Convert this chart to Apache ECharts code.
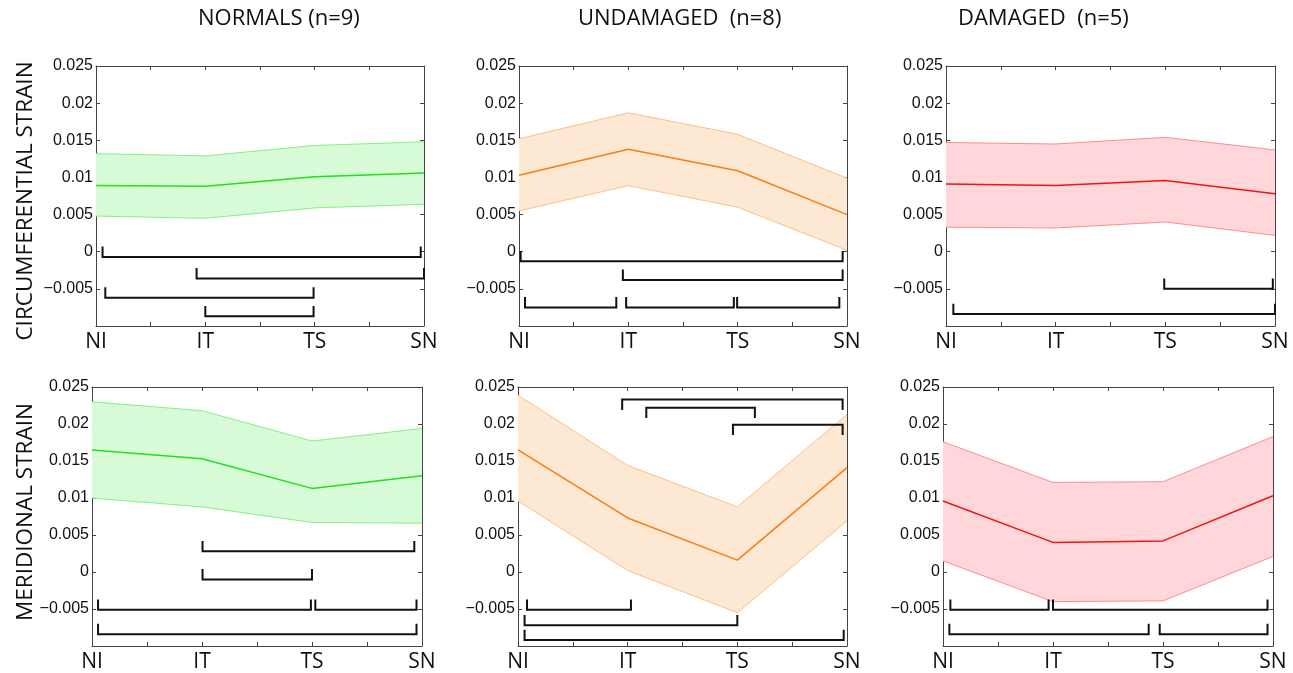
<!DOCTYPE html>
<html>
<head>
<meta charset="utf-8">
<script src="https://cdn.jsdelivr.net/npm/echarts@6/dist/echarts.min.js"></script>
<style>
  html, body { margin: 0; padding: 0; background: #fff; }
  #chart { width: 1293px; height: 673px; }
</style>
</head>
<body>
<div id="chart"></div>
<script>
// Sector names along the horizontal axis
const categories = ['NI', 'IT', 'TS', 'SN'];
const yTicks = [-0.005, 0, 0.005, 0.01, 0.015, 0.02, 0.025];

// Circumferential strain: mean and band limits per sector
const circNormalsMean    = [0.0089, 0.0088, 0.0101, 0.0106];
const circNormalsUpper   = [0.0132, 0.0129, 0.0143, 0.0148];
const circNormalsLower   = [0.0048, 0.0045, 0.0059, 0.0064];

const circUndamagedMean  = [0.0103, 0.0138, 0.0109, 0.0050];
const circUndamagedUpper = [0.0152, 0.0187, 0.0158, 0.0099];
const circUndamagedLower = [0.0055, 0.0089, 0.0060, 0.0002];

const circDamagedMean    = [0.0091, 0.0089, 0.0096, 0.0078];
const circDamagedUpper   = [0.0147, 0.0145, 0.0154, 0.0137];
const circDamagedLower   = [0.0033, 0.0032, 0.0040, 0.0022];

// Meridional strain: mean and band limits per sector
const merNormalsMean     = [0.0165, 0.0153, 0.0113, 0.0130];
const merNormalsUpper    = [0.0230, 0.0218, 0.0177, 0.0194];
const merNormalsLower    = [0.0100, 0.0088, 0.0067, 0.0066];

const merUndamagedMean   = [0.0165, 0.0073, 0.0016, 0.0141];
const merUndamagedUpper  = [0.0239, 0.0144, 0.0088, 0.0213];
const merUndamagedLower  = [0.0096, 0.0002, -0.0055, 0.0069];

const merDamagedMean     = [0.0096, 0.0040, 0.0042, 0.0103];
const merDamagedUpper    = [0.0176, 0.0121, 0.0122, 0.0183];
const merDamagedLower    = [0.0015, -0.0040, -0.0039, 0.0021];

// Significance brackets: [from sector, to sector, strain level]
const circNormalsBrackets   = [[0.06, 2.97, -0.0007], [0.92, 3.0, -0.0036], [0.085, 1.99, -0.0062], [1.0, 1.99, -0.0087]];
const circUndamagedBrackets = [[0.015, 2.96, -0.0013], [0.95, 2.96, -0.0038], [0.055, 0.89, -0.0075], [0.98, 1.965, -0.0075], [1.995, 2.93, -0.0075]];
const circDamagedBrackets   = [[1.99, 2.98, -0.0050], [0.067, 3.0, -0.0084]];
const merNormalsBrackets    = [[1.005, 2.93, 0.0028], [1.005, 2.0, -0.0010], [0.055, 1.99, -0.0051], [2.03, 2.95, -0.0051], [0.055, 2.95, -0.0084]];
const merUndamagedBrackets  = [[0.082, 1.03, -0.0051], [0.06, 2.0, -0.0072], [0.06, 2.97, -0.0092]];
const merUndamagedBracketsHanging = [[0.95, 2.96, 0.0233], [1.17, 2.16, 0.0222], [1.96, 2.96, 0.0199]];
const merDamagedBrackets    = [[0.067, 0.96, -0.0051], [1.0, 2.95, -0.0051], [0.058, 1.87, -0.0084], [1.97, 2.95, -0.0084]];

const groupTitles = ['NORMALS (n=9)', 'UNDAMAGED  (n=8)', 'DAMAGED  (n=5)'];
const rowTitles = ['CIRCUMFERENTIAL STRAIN', 'MERIDIONAL STRAIN'];

// Colours per group: mean line, band edge, band fill
const palettes = [
  { line: '#1ee01e', edge: '#86ef86', fill: '#d7fbd7' },
  { line: '#fa7d14', edge: '#fdc086', fill: '#fde8d4' },
  { line: '#ee1515', edge: '#ff8c8c', fill: '#ffd7da' }
];

const panels = [
  { rect: [96, 66, 328, 260],  mean: circNormalsMean,   upper: circNormalsUpper,   lower: circNormalsLower,   up: circNormalsBrackets,   down: [], pal: palettes[0] },
  { rect: [519, 66, 328, 260], mean: circUndamagedMean, upper: circUndamagedUpper, lower: circUndamagedLower, up: circUndamagedBrackets, down: [], pal: palettes[1] },
  { rect: [946, 66, 329, 260], mean: circDamagedMean,   upper: circDamagedUpper,   lower: circDamagedLower,   up: circDamagedBrackets,   down: [], pal: palettes[2] },
  { rect: [92, 387, 330, 260], mean: merNormalsMean,    upper: merNormalsUpper,    lower: merNormalsLower,    up: merNormalsBrackets,    down: [], pal: palettes[0] },
  { rect: [518, 387, 329, 260], mean: merUndamagedMean, upper: merUndamagedUpper,  lower: merUndamagedLower,  up: merUndamagedBrackets,  down: merUndamagedBracketsHanging, pal: palettes[1] },
  { rect: [943, 387, 330, 260], mean: merDamagedMean,   upper: merDamagedUpper,    lower: merDamagedLower,    up: merDamagedBrackets,    down: [], pal: palettes[2] }
];

const AXIS_COLOR = '#444';
const TEXT_COLOR = '#111';
const TICK_H = 0.0014; // bracket end-tick height in strain units
const yMin = -0.01, yMax = 0.025, yStep = 0.005;

function fmtY(v) {
  const r = Number(v.toFixed(4));
  if (r < yTicks[0] - 1e-9) return '';
  return r < 0 ? '\u2212' + String(-r) : String(r);
}

const grid = [], xAxis = [], yAxis = [], series = [];

// Bracket: horizontal bar with short end ticks (dir 1 = ticks up, -1 = ticks down)
function bracketSeries(data, gi, dir) {
  return {
    type: 'custom',
    xAxisIndex: gi * 2,
    yAxisIndex: gi * 2,
    clip: false,
    z: 5,
    silent: true,
    encode: { x: [0, 1], y: 2 },
    data: data,
    renderItem: function (params, api) {
      const x1 = api.value(0), x2 = api.value(1), y = api.value(2);
      const pts = [
        api.coord([x1, y + dir * TICK_H]),
        api.coord([x1, y]),
        api.coord([x2, y]),
        api.coord([x2, y + dir * TICK_H])
      ];
      return {
        type: 'polyline',
        shape: { points: pts },
        style: { stroke: '#111', lineWidth: 2, fill: null, lineJoin: 'miter' }
      };
    }
  };
}

// Filled band between the upper and lower limits
function bandSeries(p, gi) {
  return {
    type: 'custom',
    xAxisIndex: gi * 2,
    yAxisIndex: gi * 2,
    z: 1,
    silent: true,
    encode: { x: 0, y: [1, 2] },
    data: p.upper.map(function (u, i) { return [i, u, p.lower[i]]; }),
    renderItem: function (params, api) {
      if (params.dataIndex !== 0) return null;
      const pts = [];
      for (let i = 0; i < p.upper.length; i++) pts.push(api.coord([i, p.upper[i]]));
      for (let i = p.lower.length - 1; i >= 0; i--) pts.push(api.coord([i, p.lower[i]]));
      return {
        type: 'polygon',
        shape: { points: pts },
        style: { fill: p.pal.fill, stroke: null }
      };
    }
  };
}

panels.forEach(function (p, gi) {
  grid.push({ left: p.rect[0], top: p.rect[1], width: p.rect[2], height: p.rect[3], containLabel: false });

  const xBase = {
    type: 'value', gridIndex: gi, min: 0, max: 3, interval: 0.5,
    splitLine: { show: false },
    axisLine: { show: true, onZero: false, lineStyle: { color: AXIS_COLOR, width: 1 } },
    axisTick: { show: true, inside: true, length: 4, lineStyle: { color: AXIS_COLOR } }
  };
  xAxis.push(Object.assign({}, xBase, {
    position: 'bottom',
    axisLabel: {
      show: true, margin: 6, color: TEXT_COLOR, fontSize: 21, fontFamily: 'Open Sans, Liberation Sans, sans-serif',
      showMinLabel: true, showMaxLabel: true,
      formatter: function (v) { return Number.isInteger(v) ? categories[v] : ''; }
    }
  }));
  xAxis.push(Object.assign({}, xBase, { position: 'top', axisLabel: { show: false } }));

  const yBase = {
    type: 'value', gridIndex: gi, min: yMin, max: yMax, interval: yStep,
    splitLine: { show: false },
    axisLine: { show: true, onZero: false, lineStyle: { color: AXIS_COLOR, width: 1 } },
    axisTick: { show: true, inside: true, length: 4, lineStyle: { color: AXIS_COLOR } }
  };
  yAxis.push(Object.assign({}, yBase, {
    position: 'left',
    axisLabel: {
      show: true, margin: 3, color: TEXT_COLOR, fontSize: 16, fontFamily: 'Liberation Sans, Arial, sans-serif',
      showMinLabel: true, showMaxLabel: true, formatter: fmtY
    }
  }));
  yAxis.push(Object.assign({}, yBase, { position: 'right', axisLabel: { show: false } }));

  const xi = gi * 2, yi = gi * 2;
  const toPts = function (arr) { return arr.map(function (v, i) { return [i, v]; }); };

  series.push(bandSeries(p, gi));
  series.push({
    type: 'line', xAxisIndex: xi, yAxisIndex: yi,
    data: toPts(p.upper), symbol: 'none', silent: true, z: 2,
    lineStyle: { color: p.pal.edge, width: 1 }
  });
  series.push({
    type: 'line', xAxisIndex: xi, yAxisIndex: yi,
    data: toPts(p.lower), symbol: 'none', silent: true, z: 2,
    lineStyle: { color: p.pal.edge, width: 1 }
  });
  series.push({
    type: 'line', xAxisIndex: xi, yAxisIndex: yi,
    data: toPts(p.mean), symbol: 'none', silent: true, z: 3,
    lineStyle: { color: p.pal.line, width: 1.5 }
  });
  if (p.up.length) series.push(bracketSeries(p.up, gi, 1));
  if (p.down.length) series.push(bracketSeries(p.down, gi, -1));
});

const titleFont = 'Open Sans, Liberation Sans, sans-serif';
const graphic = [
  { type: 'text', left: 198, top: 8, style: { text: groupTitles[0], font: '22px ' + titleFont, fill: TEXT_COLOR } },
  { type: 'text', left: 578, top: 8, style: { text: groupTitles[1], font: '22px ' + titleFont, fill: TEXT_COLOR } },
  { type: 'text', left: 958, top: 8, style: { text: groupTitles[2], font: '22px ' + titleFont, fill: TEXT_COLOR } },
  { type: 'text', x: 26, y: 201, rotation: Math.PI / 2,
    style: { text: rowTitles[0], font: '22.5px ' + titleFont, fill: TEXT_COLOR, align: 'center', verticalAlign: 'middle' } },
  { type: 'text', x: 26, y: 512, rotation: Math.PI / 2,
    style: { text: rowTitles[1], font: '22.5px ' + titleFont, fill: TEXT_COLOR, align: 'center', verticalAlign: 'middle' } }
];

const chart = echarts.init(document.getElementById('chart'), null, { renderer: 'canvas' });
chart.setOption({
  animation: false,
  backgroundColor: '#fff',
  grid: grid,
  xAxis: xAxis,
  yAxis: yAxis,
  series: series,
  graphic: graphic
});
</script>
</body>
</html>
